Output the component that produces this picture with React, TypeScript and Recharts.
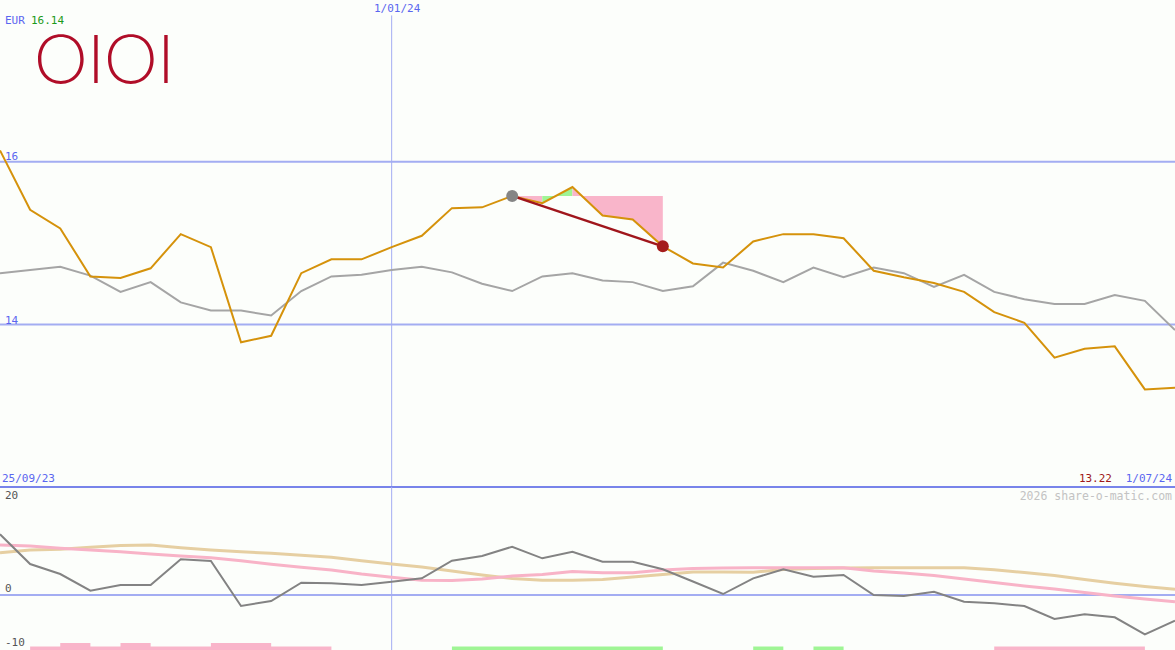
import React from "react";
import {
  ComposedChart,
  Line,
  Area,
  XAxis,
  YAxis,
  ReferenceLine,
  ReferenceDot,
} from "recharts";

// weekly closes, EUR
const close = [
  16.14, 15.41, 15.18, 14.59, 14.57, 14.69, 15.11, 14.95, 13.78, 13.86,
  14.63, 14.8, 14.8, 14.95, 15.09, 15.43, 15.44, 15.58, 15.49, 15.69,
  15.34, 15.29, 14.96, 14.75, 14.7, 15.02, 15.11, 15.11, 15.06, 14.66,
  14.58, 14.51, 14.4, 14.15, 14.02, 13.59, 13.7, 13.73, 13.2, 13.22,
];

// moving average (grey)
const average = [
  14.63, 14.67, 14.71, 14.6, 14.4, 14.52, 14.27, 14.17, 14.17, 14.11,
  14.41, 14.59, 14.61, 14.67, 14.71, 14.64, 14.5, 14.41, 14.59, 14.63,
  14.54, 14.52, 14.41, 14.47, 14.76, 14.66, 14.52, 14.7, 14.58, 14.7,
  14.63, 14.46, 14.61, 14.4, 14.31, 14.25, 14.25, 14.36, 14.29, 13.93,
];

// lower panel oscillator
const momentum = [
  12.26, 6.26, 4.24, 0.87, 2.02, 2.02, 7.21, 6.87, -2.22, -1.21,
  2.48, 2.36, 2.02, 2.69, 3.37, 6.93, 7.88, 9.76, 7.41, 8.75,
  6.73, 6.73, 5.19, 2.73, 0.2, 3.37, 5.19, 3.7, 4.04, 0,
  -0.2, 0.67, -1.35, -1.68, -2.22, -4.85, -3.9, -4.51, -7.94, -5.19,
];

const slowPink = [
  10.1, 9.9, 9.43, 9.09, 8.75, 8.28, 7.88, 7.54, 6.93, 6.2,
  5.6, 5.05, 4.24, 3.58, 3.0, 2.93, 3.23, 3.84, 4.14, 4.75,
  4.5, 4.5, 5.05, 5.35, 5.45, 5.5, 5.5, 5.5, 5.5, 4.85,
  4.44, 3.94, 3.23, 2.53, 1.82, 1.21, 0.5, -0.2, -0.81, -1.35,
];

const slowTan = [
  8.55, 9.09, 9.23, 9.64, 10.0, 10.1, 9.56, 9.09, 8.75, 8.42,
  8.02, 7.62, 6.93, 6.26, 5.66, 4.85, 4.04, 3.33, 2.97, 2.97,
  3.13, 3.64, 4.14, 4.65, 4.65, 4.59, 5.15, 5.35, 5.45, 5.5,
  5.5, 5.5, 5.5, 5.1, 4.55, 3.94, 3.13, 2.36, 1.72, 1.15,
];

// signal strips along the bottom (0 none, 1 weak, 2 strong)
const sellSignal = [
  0, 1, 2, 1, 2, 1, 1, 2, 2, 1, 1, 0, 0, 0, 0, 0, 0, 0, 0, 0,
  0, 0, 0, 0, 0, 0, 0, 0, 0, 0, 0, 0, 0, 1, 1, 1, 1, 1, 0, 0,
];
const buySignal = [
  0, 0, 0, 0, 0, 0, 0, 0, 0, 0, 0, 0, 0, 0, 0, 1, 1, 1, 1, 1,
  1, 1, 0, 0, 0, 1, 0, 1, 0, 0, 0, 0, 0, 0, 0, 0, 0, 0, 0, 0,
];

const dateLabels = ["25/09/23", "1/01/24", "1/07/24"];
const yearMarkIndex = 13;
const tradeStart = 17;
const tradeEnd = 22;

const W = 1175;
const TOP_H = 487;
const BOT_H = 163;
const TOP_DOMAIN: [number, number] = [12.0, 17.99];
const BOT_DOMAIN: [number, number] = [-11.11, 21.82];
const STRIP_STEP = 0.7;

const BLUE = "#a3adf2";
const BLUE_DARK = "#7884ea";
const TEXT_BLUE = "#5a66f0";
const PINK_FILL = "#f9b5ca";
const GREEN_FILL = "#9ff595";

// split the trade window into runs of same colour
const level = close[tradeStart];
const runs: { up: boolean; from: number; to: number }[] = [];
for (let i = tradeStart; i < tradeEnd; i++) {
  const up = close[i + 1] >= level;
  const last = runs[runs.length - 1];
  if (last && last.up === up) last.to = i + 1;
  else runs.push({ up, from: i, to: i + 1 });
}

const topData = close.map((c, i) => {
  const row: Record<string, any> = { i, close: c, average: average[i] };
  runs.forEach((r, k) => {
    row[`band${k}`] = i >= r.from && i <= r.to ? [c, level] : null;
  });
  row.trend = i === tradeStart || i === tradeEnd ? c : null;
  return row;
});

const botData = momentum.map((m, i) => ({
  i,
  momentum: m,
  pink: slowPink[i],
  tan: slowTan[i],
  sell: BOT_DOMAIN[0] + sellSignal[i] * STRIP_STEP,
  buy: BOT_DOMAIN[0] + buySignal[i] * STRIP_STEP,
}));

const mono: React.CSSProperties = {
  position: "absolute",
  fontFamily: "'DejaVu Sans Mono', monospace",
  fontSize: 11,
  lineHeight: "12px",
  whiteSpace: "nowrap",
};

function Label({ x, y, color, children, right }: any) {
  const pos = right ? { right: W - x } : { left: x };
  return <div style={{ ...mono, ...pos, top: y, color }}>{children}</div>;
}

export default function App() {
  const last = close.length - 1;
  return (
    <div
      style={{
        position: "absolute",
        left: 0,
        top: 0,
        width: W,
        height: TOP_H + BOT_H,
        background: "#fcfefb",
        overflow: "hidden",
      }}
    >
      <ComposedChart
        width={W}
        height={TOP_H}
        data={topData}
        margin={{ top: 0, right: 0, bottom: 0, left: 0 }}
      >
        <XAxis dataKey="i" type="number" domain={[0, last]} hide />
        <YAxis type="number" domain={TOP_DOMAIN} hide allowDataOverflow />
        <ReferenceLine y={16} stroke={BLUE} strokeWidth={2} />
        <ReferenceLine y={14} stroke={BLUE} strokeWidth={2} />
        <ReferenceLine
          segment={[
            { x: yearMarkIndex, y: 17.8 },
            { x: yearMarkIndex, y: TOP_DOMAIN[0] },
          ]}
          stroke={BLUE}
          strokeWidth={1}
        />
        {runs.map((r, k) => (
          <Area
            key={k}
            dataKey={`band${k}`}
            type="linear"
            stroke="none"
            fill={r.up ? GREEN_FILL : PINK_FILL}
            fillOpacity={1}
            dot={false}
            activeDot={false}
            isAnimationActive={false}
          />
        ))}
        <Line
          dataKey="average"
          type="linear"
          stroke="#a5a5a5"
          strokeWidth={2}
          dot={false}
          activeDot={false}
          isAnimationActive={false}
        />
        <Line
          dataKey="close"
          type="linear"
          stroke="#d5920b"
          strokeWidth={2}
          dot={false}
          activeDot={false}
          isAnimationActive={false}
        />
        <Line
          dataKey="trend"
          type="linear"
          stroke="#a0161c"
          strokeWidth={2.5}
          dot={false}
          activeDot={false}
          connectNulls
          isAnimationActive={false}
        />
        <ReferenceDot x={tradeStart} y={close[tradeStart]} r={6} fill="#858585" stroke="none" />
        <ReferenceDot x={tradeEnd} y={close[tradeEnd]} r={6} fill="#a51c1c" stroke="none" />
      </ComposedChart>

      <div style={{ position: "absolute", left: 0, top: TOP_H - 1, width: W, height: 2, background: BLUE_DARK }} />

      <div style={{ position: "absolute", left: 0, top: TOP_H }}>
        <ComposedChart
          width={W}
          height={BOT_H}
          data={botData}
          margin={{ top: 0, right: 0, bottom: 0, left: 0 }}
        >
          <XAxis dataKey="i" type="number" domain={[0, last]} hide />
          <YAxis type="number" domain={BOT_DOMAIN} hide allowDataOverflow />
          <ReferenceLine y={0} stroke={BLUE} strokeWidth={2} />
          <ReferenceLine x={yearMarkIndex} stroke={BLUE} strokeWidth={1} />
          <Area
            dataKey="sell"
            type="stepAfter"
            baseValue={BOT_DOMAIN[0]}
            stroke="none"
            fill={PINK_FILL}
            fillOpacity={1}
            activeDot={false}
            isAnimationActive={false}
          />
          <Area
            dataKey="buy"
            type="stepAfter"
            baseValue={BOT_DOMAIN[0]}
            stroke="none"
            fill={GREEN_FILL}
            fillOpacity={1}
            activeDot={false}
            isAnimationActive={false}
          />
          <Line dataKey="tan" type="linear" stroke="#e6cfa2" strokeWidth={3} dot={false} activeDot={false} isAnimationActive={false} />
          <Line dataKey="pink" type="linear" stroke="#f8b3c7" strokeWidth={3} dot={false} activeDot={false} isAnimationActive={false} />
          <Line dataKey="momentum" type="linear" stroke="#838383" strokeWidth={2} dot={false} activeDot={false} isAnimationActive={false} />
        </ComposedChart>
      </div>

      <div
        style={{
          position: "absolute",
          left: 33,
          top: 35,
          fontFamily: "Inter, 'Noto Sans', sans-serif",
          fontWeight: 220,
          fontSize: 66,
          lineHeight: "48px",
          height: 48,
          color: "#b00d28",
          letterSpacing: -2,
          transform: "scaleX(1.12)",
          transformOrigin: "left top",
        }}
      >
        OIOI
      </div>

      <Label x={5} y={15} color={TEXT_BLUE}>EUR</Label>
      <Label x={31} y={15} color="#1c9a1c">{close[0].toFixed(2)}</Label>
      <Label x={374} y={3} color={TEXT_BLUE}>{dateLabels[1]}</Label>
      <Label x={5} y={151} color={TEXT_BLUE}>16</Label>
      <Label x={5} y={315} color={TEXT_BLUE}>14</Label>
      <Label x={2} y={473} color={TEXT_BLUE}>{dateLabels[0]}</Label>
      <Label x={1112} y={473} color="#a01818" right>{close[last].toFixed(2)}</Label>
      <Label x={1172} y={473} color={TEXT_BLUE} right>{dateLabels[2]}</Label>
      <div style={{ ...mono, right: 3, top: 490, color: "#c3c3c3", fontSize: 11.5 }}>
        2026 share-o-matic.com
      </div>
      <Label x={5} y={490} color="#555">20</Label>
      <Label x={5} y={583} color="#555">0</Label>
      <Label x={5} y={637} color="#555">-10</Label>
    </div>
  );
}
